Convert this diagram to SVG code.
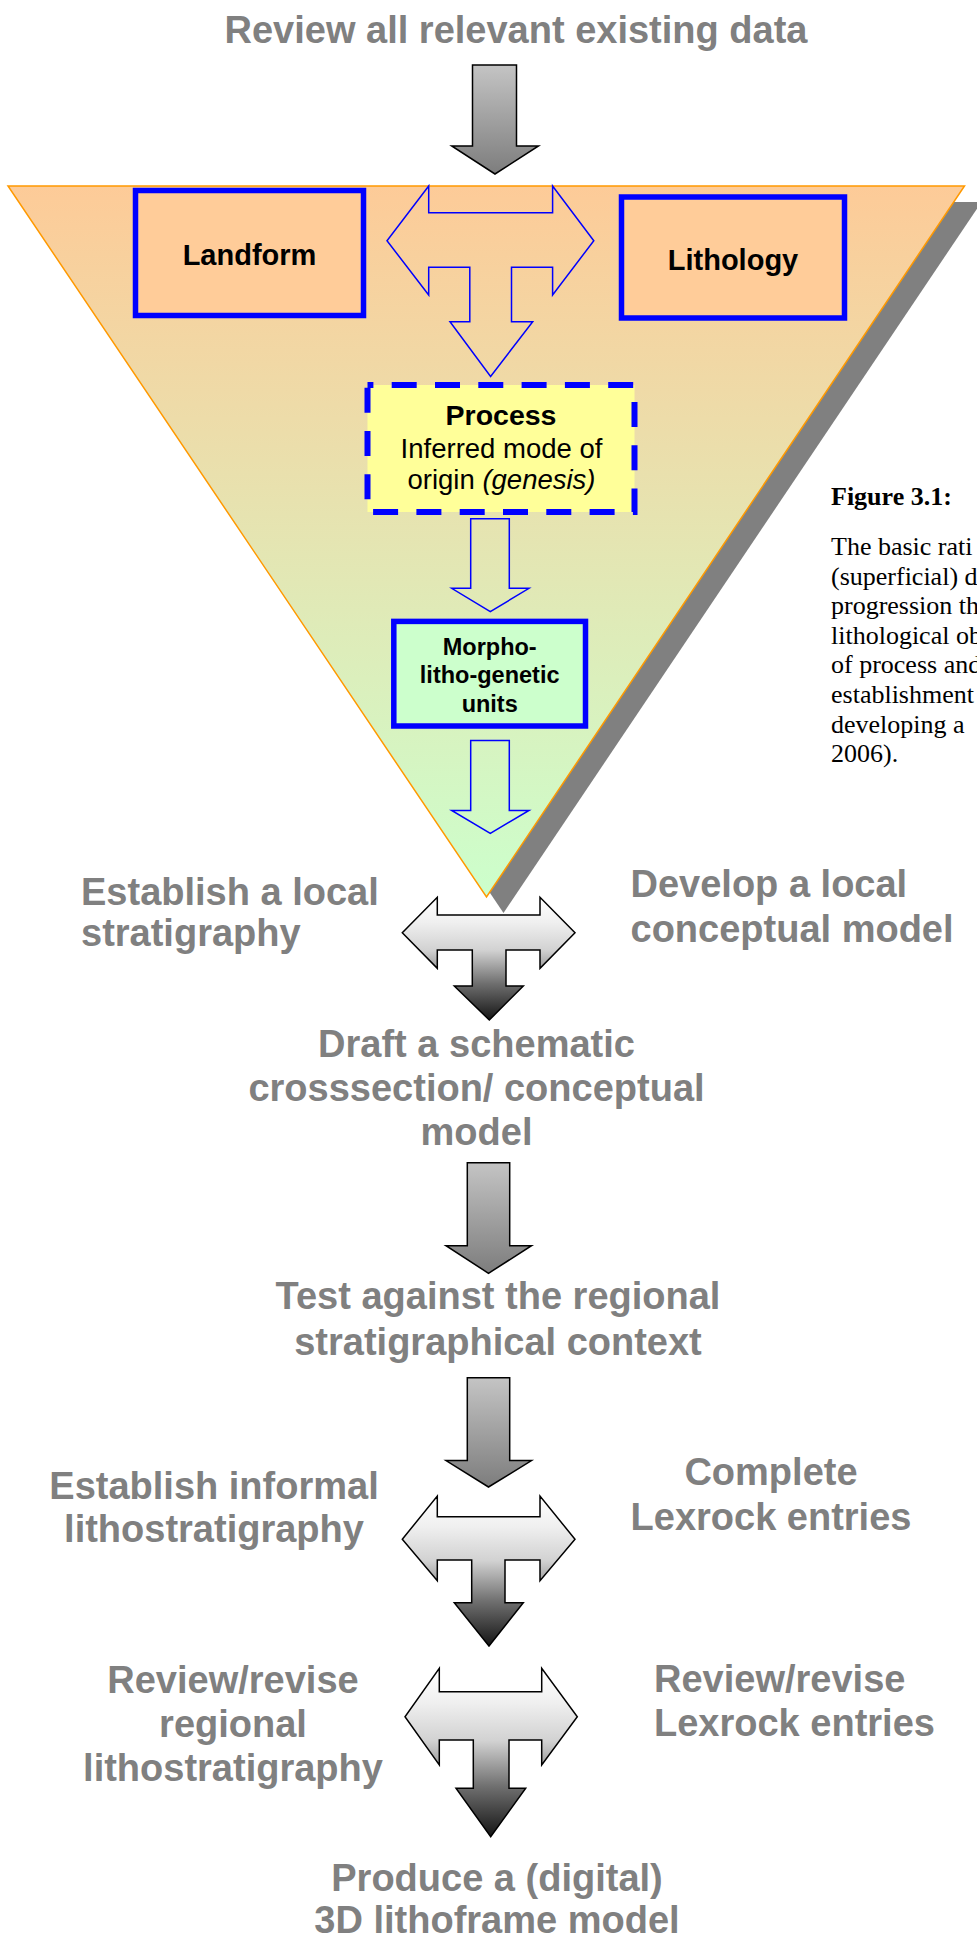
<svg xmlns="http://www.w3.org/2000/svg" width="977" height="1944" viewBox="0 0 977 1944">
<defs>
<linearGradient id="triGrad" x1="0" y1="0" x2="0" y2="1"><stop offset="0" stop-color="#FDCB98"/><stop offset="1" stop-color="#CCFFCC"/></linearGradient>
<linearGradient id="greyGrad" x1="0" y1="0" x2="0" y2="1"><stop offset="0" stop-color="#c4c4c4"/><stop offset="1" stop-color="#7d7d7d"/></linearGradient>
<linearGradient id="tGrad" x1="0" y1="0" x2="0" y2="1"><stop offset="0" stop-color="#ffffff"/><stop offset="0.2" stop-color="#f0f0f0"/><stop offset="0.43" stop-color="#d2d2d2"/><stop offset="0.7" stop-color="#707070"/><stop offset="1" stop-color="#151515"/></linearGradient>
</defs>
<style>
.lbl{font-family:"Liberation Sans",Arial,sans-serif;font-weight:bold;font-size:38px;fill:#808080}
.bx{font-family:"Liberation Sans",Arial,sans-serif;fill:#000}
.cap{font-family:"Liberation Serif","Times New Roman",serif;fill:#000;font-size:26px}
.garrow{fill:url(#greyGrad);stroke:#000;stroke-width:1.5}
.tarrow{fill:url(#tGrad);stroke:#000;stroke-width:1.5}
.barrow{fill:none;stroke:#0000FF;stroke-width:1.5}
.solid{stroke:#0000FF;stroke-width:5.5}
</style>
<rect x="0" y="0" width="977" height="1944" fill="#ffffff"/>

<g id="funnel">
<polygon points="25,202 981.5,202 503.5,913" fill="#808080"/>
<polygon points="8,186 964.5,186 486.5,897" fill="url(#triGrad)" stroke="#FF9900" stroke-width="1.5"/>
</g>

<g id="title"><text class="lbl" x="516" y="43" text-anchor="middle">Review all relevant existing data</text></g>

<g id="landform">
<rect x="135.5" y="190.5" width="228" height="125" fill="#FFCC99" class="solid"/>
<text class="bx" x="249.5" y="265" text-anchor="middle" font-size="29" font-weight="bold">Landform</text>
</g>
<g id="lithology">
<rect x="621.5" y="197" width="223" height="121" fill="#FFCC99" class="solid"/>
<text class="bx" x="733" y="270" text-anchor="middle" font-size="29" font-weight="bold">Lithology</text>
</g>
<g id="process">
<rect x="367.5" y="385" width="267" height="127" fill="#FFFF99" stroke="#0000FF" stroke-width="6" stroke-dasharray="25 18.3" stroke-dashoffset="19.1"/>
<text class="bx" x="501" y="425" text-anchor="middle" font-size="28.5" font-weight="bold">Process</text>
<text class="bx" x="501.5" y="458" text-anchor="middle" font-size="27.5">Inferred mode of</text>
<text class="bx" x="501.5" y="488.5" text-anchor="middle" font-size="27.5">origin <tspan font-style="italic">(genesis)</tspan></text>
</g>
<g id="morpho">
<rect x="393.8" y="621.4" width="191.7" height="104.6" fill="#CCFFCC" class="solid"/>
<text class="bx" x="489.7" y="655.4" text-anchor="middle" font-size="23.5" font-weight="bold">Morpho-</text>
<text class="bx" x="489.7" y="683" text-anchor="middle" font-size="23.5" font-weight="bold">litho-genetic</text>
<text class="bx" x="489.7" y="712" text-anchor="middle" font-size="23.5" font-weight="bold">units</text>
</g>

<g id="caption">
<text class="cap" x="831" y="505" font-size="28.5" font-weight="bold">Figure 3.1:</text>
<text class="cap" x="831" y="555">The basic rati</text>
<text class="cap" x="831" y="584.6">(superficial) d</text>
<text class="cap" x="831" y="614.2">progression th</text>
<text class="cap" x="831" y="643.8">lithological ob</text>
<text class="cap" x="831" y="673.4">of process and</text>
<text class="cap" x="831" y="703">establishment</text>
<text class="cap" x="831" y="732.6">developing a</text>
<text class="cap" x="831" y="762.2">2006).</text>
</g>

<g id="labels">
<g id="local-strat"><text class="lbl" x="81" y="905">Establish a local</text><text class="lbl" x="81" y="946">stratigraphy</text></g>
<g id="local-model"><text class="lbl" x="630.5" y="897">Develop a local</text><text class="lbl" x="630.5" y="942">conceptual model</text></g>
<g id="draft"><text class="lbl" x="476.5" y="1057" text-anchor="middle">Draft a schematic</text><text class="lbl" x="476.5" y="1101" text-anchor="middle">crosssection/ conceptual</text><text class="lbl" x="476.5" y="1145" text-anchor="middle">model</text></g>
<g id="test"><text class="lbl" x="498" y="1309" text-anchor="middle">Test against the regional</text><text class="lbl" x="498" y="1355" text-anchor="middle">stratigraphical context</text></g>
<g id="informal"><text class="lbl" x="214" y="1499" text-anchor="middle">Establish informal</text><text class="lbl" x="214" y="1542" text-anchor="middle">lithostratigraphy</text></g>
<g id="lexrock"><text class="lbl" x="771" y="1485" text-anchor="middle">Complete</text><text class="lbl" x="771" y="1529.5" text-anchor="middle">Lexrock entries</text></g>
<g id="regional"><text class="lbl" x="233" y="1692.5" text-anchor="middle">Review/revise</text><text class="lbl" x="233" y="1737" text-anchor="middle">regional</text><text class="lbl" x="233" y="1780.5" text-anchor="middle">lithostratigraphy</text></g>
<g id="revise-lexrock"><text class="lbl" x="654" y="1692">Review/revise</text><text class="lbl" x="654" y="1736">Lexrock entries</text></g>
<g id="produce"><text class="lbl" x="497" y="1891" text-anchor="middle">Produce a (digital)</text><text class="lbl" x="497" y="1933" text-anchor="middle">3D lithoframe model</text></g>
</g>

<g id="connectors">
<path class="garrow" d="M472.5,65 L516.5,65 L516.5,146 L538.5,146 L495,174 L451.7,146 L472.5,146 Z"/>
<path class="barrow" d="M428.7,186 L428.7,212.7 L552.6,212.7 L552.6,186 L593.8,240.7 L552.6,295 L552.6,267.3 L511.5,267.3 L511.5,321.7 L532.7,321.7 L490.6,376.5 L450,321.7 L469.8,321.7 L469.8,267.3 L428.7,267.3 L428.7,295 L387,240.7 Z"/>
<path class="barrow" d="M470.7,518.7 L509.3,518.7 L509.3,588.3 L529,588.3 L490.3,611.7 L451.7,588.3 L470.7,588.3 Z"/>
<path class="barrow" d="M470.7,740.5 L509.3,740.5 L509.3,810.4 L529,810.4 L490.3,833.4 L451.7,810.4 L470.7,810.4 Z"/>
<path class="tarrow" d="M437.3,897.3 L437.3,915 L540,915 L540,897.3 L575,932.7 L540,968.3 L540,950 L506,950 L506,986 L523.3,986 L489.3,1020 L454.3,986 L472.3,986 L472.3,950 L437.3,950 L437.3,968.3 L402.3,932.7 Z"/>
<path class="garrow" d="M467.3,1162.7 L509.7,1162.7 L509.7,1245.7 L531.5,1245.7 L488.5,1273.3 L446,1245.7 L467.3,1245.7 Z"/>
<path class="garrow" d="M467.3,1377.7 L509.7,1377.7 L509.7,1460.6 L531.5,1460.6 L488.5,1487 L446,1460.6 L467.3,1460.6 Z"/>
<path class="tarrow" d="M437.3,1496 L437.3,1516.7 L540,1516.7 L540,1496 L575,1539.3 L540,1580.7 L540,1560 L505,1560 L505,1602.7 L523.3,1602.7 L489,1646 L454.3,1602.7 L471.7,1602.7 L471.7,1560 L437.3,1560 L437.3,1580.7 L402.3,1539.3 Z"/>
<path class="tarrow" d="M439.3,1668.3 L439.3,1691.7 L541.7,1691.7 L541.7,1668.3 L577.3,1716.7 L541.7,1765 L541.7,1740 L509,1740 L509,1788.3 L525.7,1788.3 L490.7,1836.7 L456,1788.3 L473.3,1788.3 L473.3,1740 L439.3,1740 L439.3,1765 L405,1716.7 Z"/>
</g>
</svg>
